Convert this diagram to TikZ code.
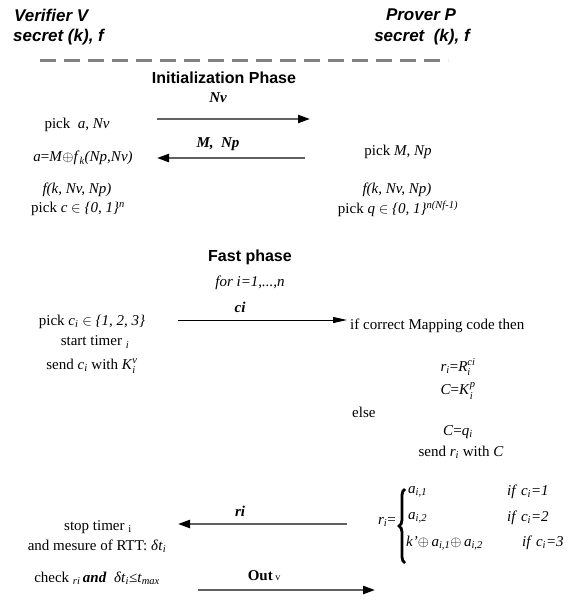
\documentclass[tikz,border=0pt]{standalone}
\usepackage{amsmath}
\usepackage{fontspec}
\setmainfont{Liberation Serif}
\setsansfont{Liberation Sans}
\usetikzlibrary{arrows.meta,decorations.pathreplacing}
\newcommand\ii[1]{\textit{#1}}
\newcommand\sbs[2]{\textit{#1}$_{\textit{#2}}$}
\newcommand\sbsp[3]{\textit{#1}$_{\textit{#2}}^{\textit{#3}}$}
\tikzset{
  txt/.style={inner sep=0pt, font=\fontsize{15}{18}\selectfont},
  lbl/.style={inner sep=0pt, font=\fontsize{15}{18}\selectfont\bfseries\itshape},
  hdr/.style={inner sep=0pt, font=\fontsize{17}{20}\selectfont\sffamily\bfseries\itshape},
  phase/.style={inner sep=0pt, font=\fontsize{16}{19}\selectfont\sffamily\bfseries},
  msg/.style={draw=black!62, line width=2.2pt, -{Triangle[length=12pt,width=8pt,color=black]}},
  fastmsg/.style={draw=black, line width=1pt, -{Triangle[length=14pt,width=6pt]}},
  dashline/.style={draw=black!50, line width=3pt, dash pattern=on 16pt off 8pt},
  bracestyle/.style={draw=black, line width=2.8pt, decorate, decoration={brace, amplitude=6pt}},
}
\begin{document}
\begin{tikzpicture}[x=1pt,y=-1pt]
\useasboundingbox (0,0) rectangle (580,601);

% header
\node[hdr, anchor=west] (ver) at (14,15) {Verifier V};
\node[hdr, anchor=west] (vsec) at (13,37) {secret (k), f};
\node[hdr] (prov) at (421,15) {Prover P};
\node[hdr] (psec) at (422,37) {secret\ \ (k), f};
\coordinate (dl1) at (40,61);
\coordinate (dl2) at (448,61);
\draw[dashline] (dl1) -- (dl2);

% initialization phase
\node[phase] (init) at (224,78) {Initialization Phase};
\node[lbl] (nv) at (218,98) {Nv};
\coordinate (a1s) at (157,119);
\coordinate (a1e) at (310,119);
\draw[msg] (a1s) -- (a1e);
\node[txt] (pa) at (77,125) {pick~ \ii{a}, \ii{Nv}};
\node[lbl] (mnp) at (218,144) {M,\ \ Np};
\coordinate (a2s) at (305,158);
\coordinate (a2e) at (157,158);
\draw[msg] (a2s) -- (a2e);
\node[txt] (am) at (83,158) {\ii{a}=\ii{M}$\oplus$\sbs{f}{k}\ii{(Np,Nv)}};
\node[txt] (pm) at (398,152) {pick \ii{M}, \ii{Np}};
\node[txt] (fl) at (77,190) {\ii{f(k, Nv, Np)}};
\node[txt] (fr) at (397,190) {\ii{f(k, Nv, Np)}};
\node[txt] (pc) at (78,209) {pick \ii{c} $\in$ \ii{\{0, 1\}}$^{\textit{n}}$};
\node[txt] (pq) at (398,209) {pick \ii{q} $\in$ \ii{\{0, 1\}}$^{\textit{n(Nf-1)}}$};

% fast phase
\node[phase] (fast) at (250,257) {Fast phase};
\node[txt] (for) at (250,283) {\ii{for i=1,...,n}};
\node[lbl] (ci) at (240,307) {ci};
\coordinate (a3s) at (178,320);
\coordinate (a3e) at (347,320);
\draw[fastmsg] (a3s) -- (a3e);
\node[txt] (pci) at (92,322) {pick \sbs{c}{i} $\in$ \ii{\{1, 2, 3\}}};
\node[txt] (st) at (95,342) {start timer $_{\textit{i}}$};
\node[txt] (sc) at (92,366) {send \sbs{c}{i} with \sbsp{K}{i}{v}};
\node[txt, anchor=west] (ifc) at (350,326) {if correct Mapping code then};
\node[txt] (rr) at (458,367) {\sbs{r}{i}=\sbsp{R}{i}{ci}};
\node[txt] (ck) at (458,391) {\ii{C}=\sbsp{K}{i}{p}};
\node[txt, anchor=west] (else) at (352,412) {else};
\node[txt] (cq) at (458,432) {\ii{C}=\sbs{q}{i}};
\node[txt] (sr) at (461,452) {send \sbs{r}{i} with \ii{C}};

% response
\node[txt, anchor=east] (req) at (396,522) {\sbs{r}{i}=};
\coordinate (bb) at (405,563);
\coordinate (bt) at (405,489);
\draw[bracestyle] (bb) -- (bt);
\node[txt, anchor=west] (r1) at (408,492) {\sbs{a}{i,1}};
\node[txt, anchor=west] (c1) at (507,492) {\ii{if} \sbs{c}{i}\ii{=1}};
\node[txt, anchor=west] (r2) at (408,518) {\sbs{a}{i,2}};
\node[txt, anchor=west] (c2) at (507,518) {\ii{if} \sbs{c}{i}\ii{=2}};
\node[txt, anchor=west] (r3) at (406,543) {\ii{k'}$\oplus$\,\sbs{a}{i,1}$\oplus$\,\sbs{a}{i,2}};
\node[txt, anchor=west] (c3) at (522,543) {\ii{if} \sbs{c}{i}\ii{=3}};

\node[lbl] (ri) at (240,511) {ri};
\coordinate (a4s) at (347,524);
\coordinate (a4e) at (178,524);
\draw[msg] (a4s) -- (a4e);
\node[txt] (stop) at (98,527) {stop timer $_{\textrm{i}}$};
\node[txt] (mes) at (97,546) {and mesure of RTT: \ii{δ}\sbs{t}{i}};
\node[txt] (chk) at (97,578) {check $_{\textit{ri}}$\,\textbf{\textit{and}}~ \ii{δ}\sbs{t}{i}\ii{≤}\sbs{t}{max}};
\node[txt] (out) at (264,576) {\textbf{Out}\,{\fontsize{10}{12}\selectfont v}};
\coordinate (a5s) at (198,590);
\coordinate (a5e) at (375,590);
\draw[msg] (a5s) -- (a5e);
\end{tikzpicture}
\end{document}
